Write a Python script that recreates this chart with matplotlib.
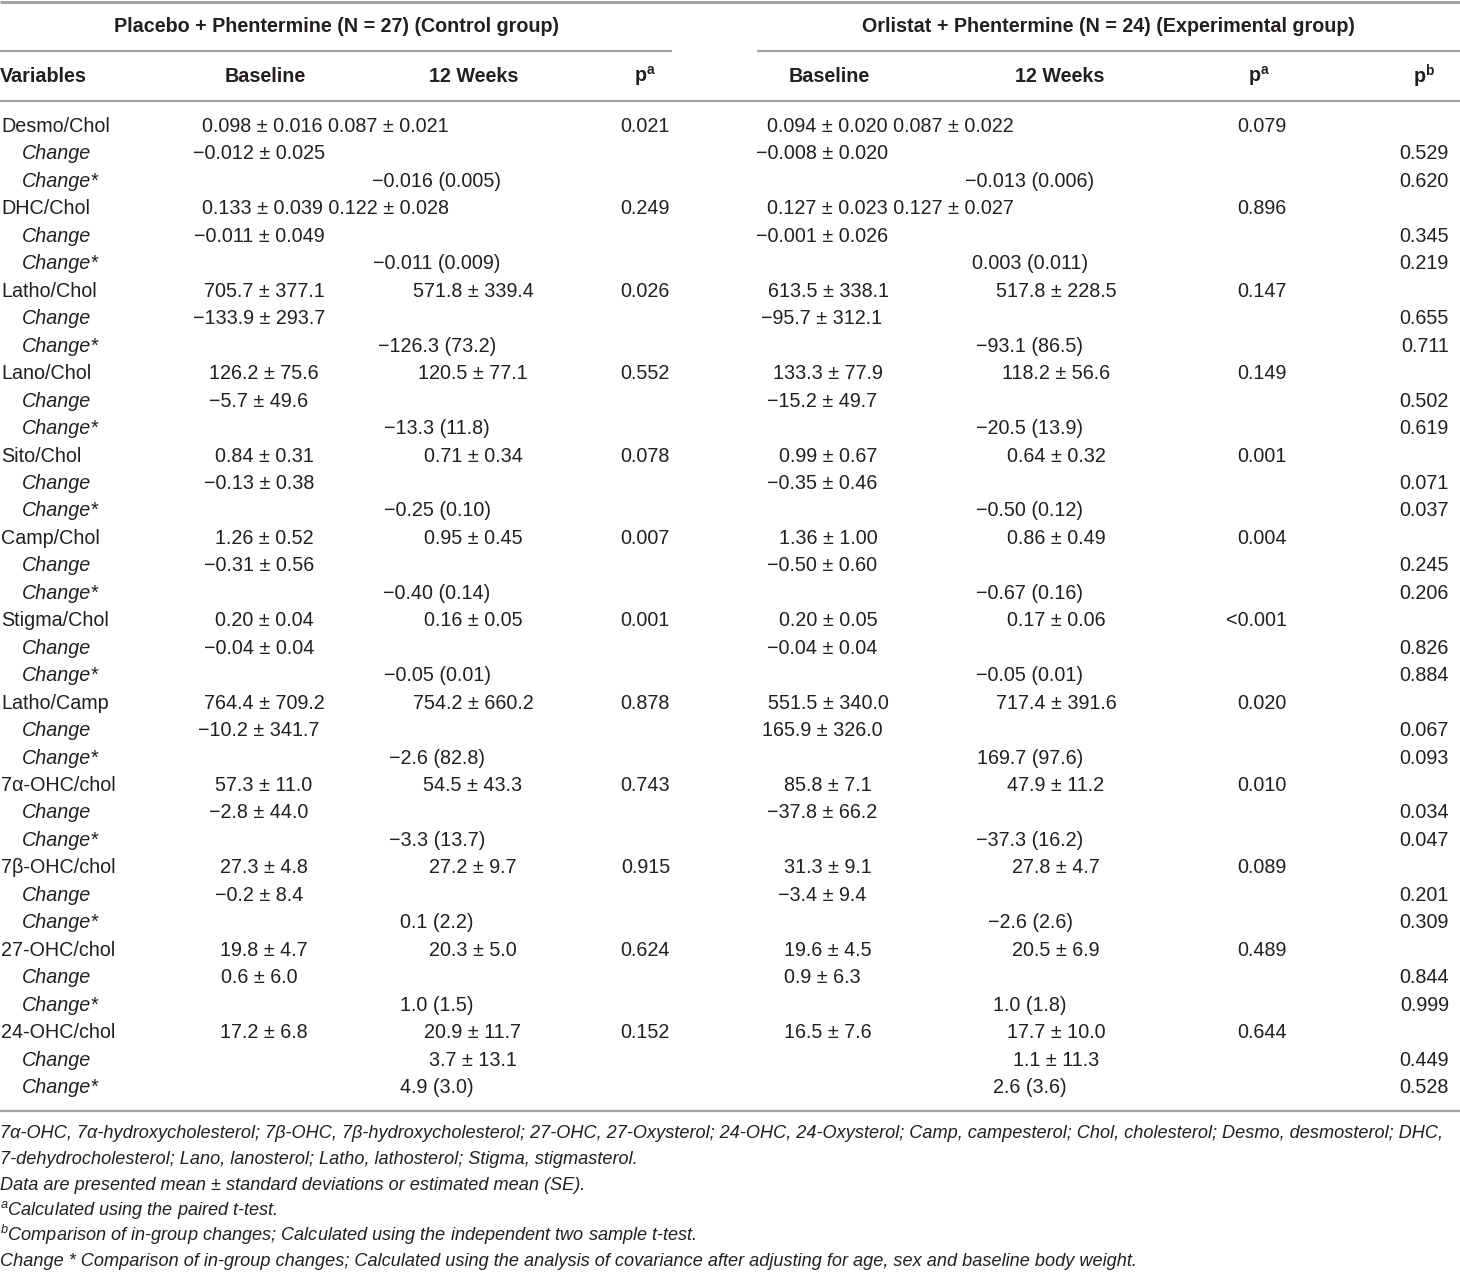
import matplotlib
matplotlib.use("Agg")
import matplotlib.pyplot as plt

# ---------------- data ----------------
variables = ["Desmo/Chol", "DHC/Chol", "Latho/Chol", "Lano/Chol", "Sito/Chol",
             "Camp/Chol", "Stigma/Chol", "Latho/Camp", "7\u03b1-OHC/chol",
             "7\u03b2-OHC/chol", "27-OHC/chol", "24-OHC/chol"]

ctrl_baseline = ["0.098 ± 0.016", "0.133 ± 0.039", "705.7 ± 377.1", "126.2 ± 75.6",
                 "0.84 ± 0.31", "1.26 ± 0.52", "0.20 ± 0.04", "764.4 ± 709.2",
                 "57.3 ± 11.0", "27.3 ± 4.8", "19.8 ± 4.7", "17.2 ± 6.8"]
ctrl_week12 = ["0.087 ± 0.021", "0.122 ± 0.028", "571.8 ± 339.4", "120.5 ± 77.1",
               "0.71 ± 0.34", "0.95 ± 0.45", "0.16 ± 0.05", "754.2 ± 660.2",
               "54.5 ± 43.3", "27.2 ± 9.7", "20.3 ± 5.0", "20.9 ± 11.7"]
ctrl_p = ["0.021", "0.249", "0.026", "0.552", "0.078", "0.007", "0.001", "0.878",
          "0.743", "0.915", "0.624", "0.152"]
ctrl_change = ["\u22120.012 ± 0.025", "\u22120.011 ± 0.049", "\u2212133.9 ± 293.7",
               "\u22125.7 ± 49.6", "\u22120.13 ± 0.38", "\u22120.31 ± 0.56",
               "\u22120.04 ± 0.04", "\u221210.2 ± 341.7", "\u22122.8 ± 44.0",
               "\u22120.2 ± 8.4", "0.6 ± 6.0", "3.7 ± 13.1"]
ctrl_change_adj = ["\u22120.016 (0.005)", "\u22120.011 (0.009)", "\u2212126.3 (73.2)",
                   "\u221213.3 (11.8)", "\u22120.25 (0.10)", "\u22120.40 (0.14)",
                   "\u22120.05 (0.01)", "\u22122.6 (82.8)", "\u22123.3 (13.7)",
                   "0.1 (2.2)", "1.0 (1.5)", "4.9 (3.0)"]

exp_baseline = ["0.094 ± 0.020", "0.127 ± 0.023", "613.5 ± 338.1", "133.3 ± 77.9",
                "0.99 ± 0.67", "1.36 ± 1.00", "0.20 ± 0.05", "551.5 ± 340.0",
                "85.8 ± 7.1", "31.3 ± 9.1", "19.6 ± 4.5", "16.5 ± 7.6"]
exp_week12 = ["0.087 ± 0.022", "0.127 ± 0.027", "517.8 ± 228.5", "118.2 ± 56.6",
              "0.64 ± 0.32", "0.86 ± 0.49", "0.17 ± 0.06", "717.4 ± 391.6",
              "47.9 ± 11.2", "27.8 ± 4.7", "20.5 ± 6.9", "17.7 ± 10.0"]
exp_p = ["0.079", "0.896", "0.147", "0.149", "0.001", "0.004", "<0.001", "0.020",
         "0.010", "0.089", "0.489", "0.644"]
exp_change = ["\u22120.008 ± 0.020", "\u22120.001 ± 0.026", "\u221295.7 ± 312.1",
              "\u221215.2 ± 49.7", "\u22120.35 ± 0.46", "\u22120.50 ± 0.60",
              "\u22120.04 ± 0.04", "165.9 ± 326.0", "\u221237.8 ± 66.2",
              "\u22123.4 ± 9.4", "0.9 ± 6.3", "1.1 ± 11.3"]
exp_change_adj = ["\u22120.013 (0.006)", "0.003 (0.011)", "\u221293.1 (86.5)",
                  "\u221220.5 (13.9)", "\u22120.50 (0.12)", "\u22120.67 (0.16)",
                  "\u22120.05 (0.01)", "169.7 (97.6)", "\u221237.3 (16.2)",
                  "\u22122.6 (2.6)", "1.0 (1.8)", "2.6 (3.6)"]

p_change = ["0.529", "0.345", "0.655", "0.502", "0.071", "0.245", "0.826", "0.067",
            "0.034", "0.201", "0.844", "0.449"]
p_change_adj = ["0.620", "0.219", "0.711", "0.619", "0.037", "0.206", "0.884", "0.093",
                "0.047", "0.309", "0.999", "0.528"]

merged_rows = ["Desmo/Chol", "DHC/Chol"]        # baseline & 12-week printed in one cell
change_in_week_col = ["24-OHC/chol"]             # change printed under 12 Weeks

group_titles = ["Placebo + Phentermine (N = 27) (Control group)",
                "Orlistat + Phentermine (N = 24) (Experimental group)"]

footnotes = [
    "7\u03b1-OHC, 7\u03b1-hydroxycholesterol; 7\u03b2-OHC, 7\u03b2-hydroxycholesterol; 27-OHC, 27-Oxysterol; "
    "24-OHC, 24-Oxysterol; Camp, campesterol; Chol, cholesterol; Desmo, desmosterol; DHC,",
    "7-dehydrocholesterol; Lano, lanosterol; Latho, lathosterol; Stigma, stigmasterol.",
    "Data are presented mean ± standard deviations or estimated mean (SE).",
    r"$^{a}$Calculated using the paired t-test.",
    r"$^{b}$Comparison of in-group changes; Calculated using the independent two sample t-test.",
    "Change * Comparison of in-group changes; Calculated using the analysis of covariance after "
    "adjusting for age, sex and baseline body weight.",
]

# ---------------- style ----------------
FONT = "Liberation Sans"
plt.rcParams["font.family"] = [FONT, "DejaVu Sans"]
plt.rcParams["mathtext.fontset"] = "custom"
plt.rcParams["mathtext.rm"] = FONT
plt.rcParams["mathtext.it"] = FONT + ":italic"
plt.rcParams["mathtext.bf"] = FONT + ":bold"

TXT = "#231f20"
LINE = "#a3a3a3"
FS = 14.2
FS_NOTE = 13.1

W, H = 1460, 1272
fig = plt.figure(figsize=(W / 100, H / 100), dpi=100)
ax = fig.add_axes([0, 0, 1, 1])
ax.set_xlim(0, W)
ax.set_ylim(H, 0)
ax.axis("off")

def t(x, y, s, ha="center", va="center", **kw):
    kw.setdefault("fontsize", FS)
    kw.setdefault("color", TXT)
    ax.text(x, y, s, ha=ha, va=va, **kw)

# rules
ax.plot([0, W], [1.5, 1.5], color=LINE, lw=2.2, solid_capstyle="butt")
ax.plot([0, 672], [50.5, 50.5], color=LINE, lw=1.6, solid_capstyle="butt")
ax.plot([757, W], [50.5, 50.5], color=LINE, lw=1.6, solid_capstyle="butt")
ax.plot([0, W], [100.5, 100.5], color=LINE, lw=1.6, solid_capstyle="butt")
ax.plot([0, W], [1111, 1111], color=LINE, lw=1.6, solid_capstyle="butt")

# group titles
t(336, 26, group_titles[0], fontweight="bold")
t(1108, 26, group_titles[1], fontweight="bold")

# header row
hy = 76
t(0, hy, "Variables", ha="left", fontweight="bold")
t(265, hy, "Baseline", fontweight="bold")
t(474, hy, "12 Weeks", fontweight="bold")
t(645, hy, r"p$^{\mathbf{a}}$", fontweight="bold")
t(829, hy, "Baseline", fontweight="bold")
t(1060, hy, "12 Weeks", fontweight="bold")
t(1259, hy, r"p$^{\mathbf{a}}$", fontweight="bold")
t(1424, hy, r"p$^{\mathbf{b}}$", fontweight="bold")

# columns (pixel positions)
L_BASE, L_CHG, L_W12, L_ADJ, L_P = 264, 259, 473, 437, 670
R_BASE, R_CHG, R_W12, R_ADJ, R_PA, R_PB = 828, 822, 1056, 1030, 1287, 1449
L_MERGE, R_MERGE = 202, 767

y0, dy = 126.5, 27.46
for i, var in enumerate(variables):
    y = y0 + 3 * i * dy
    t(1, y, var, ha="left")
    if var in merged_rows:
        t(L_MERGE, y, ctrl_baseline[i] + " " + ctrl_week12[i], ha="left")
        t(R_MERGE, y, exp_baseline[i] + " " + exp_week12[i], ha="left")
    else:
        t(L_BASE, y, ctrl_baseline[i])
        t(L_W12, y, ctrl_week12[i])
        t(R_BASE, y, exp_baseline[i])
        t(R_W12, y, exp_week12[i])
    t(L_P, y, ctrl_p[i], ha="right")
    t(R_PA, y, exp_p[i], ha="right")

    # change row
    yc = y + dy
    t(22, yc, "Change", ha="left", style="italic")
    if var in change_in_week_col:
        t(L_W12, yc, ctrl_change[i])
        t(R_W12, yc, exp_change[i])
    else:
        t(L_CHG, yc, ctrl_change[i])
        t(R_CHG, yc, exp_change[i])
    t(R_PB, yc, p_change[i], ha="right")

    # adjusted change row
    ya = y + 2 * dy
    t(22, ya, "Change*", ha="left", style="italic")
    t(L_ADJ, ya, ctrl_change_adj[i])
    t(R_ADJ, ya, exp_change_adj[i])
    t(R_PB, ya, p_change_adj[i], ha="right")

# footnotes (baselines)
fy = [1138, 1164, 1190, 1215, 1241, 1266]
for yy, s in zip(fy, footnotes):
    t(0, yy, s, ha="left", va="baseline", style="italic", fontsize=FS_NOTE)

fig.savefig("out.png", dpi=100)
